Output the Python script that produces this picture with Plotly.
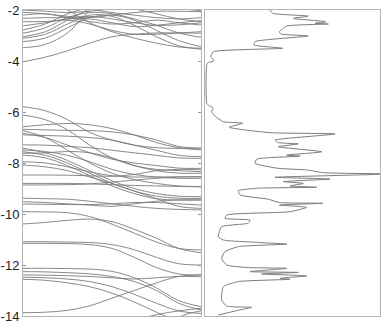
import plotly.graph_objects as go

# k-path sample positions (fraction of the path)
k_points = [0.0, 0.125, 0.25, 0.375, 0.5, 0.625, 0.75, 0.875, 1.0]

# band energies (eV) at k_points
bands_upper = [
    [-4.03, -3.85, -3.60, -3.30, -3.05, -2.95, -2.90, -2.90, -2.91],
    [-3.48, -3.35, -2.90, -2.00, -1.30, -1.00, -1.00, -1.00, -1.00],
    [-3.24, -3.10, -2.70, -2.30, -2.20, -2.40, -2.80, -3.20, -3.44],
    [-3.11, -2.95, -2.55, -2.20, -2.25, -2.60, -3.05, -3.40, -3.54],
    [-3.05, -2.85, -2.40, -1.95, -1.60, -1.40, -1.40, -1.40, -1.40],
    [-2.91, -2.70, -2.30, -2.10, -2.15, -2.35, -2.60, -2.90, -3.07],
    [-2.78, -2.55, -2.15, -1.90, -1.70, -1.60, -1.60, -1.60, -1.60],
    [-2.62, -2.50, -2.35, -2.35, -2.50, -2.65, -2.60, -2.50, -2.42],
    [-2.46, -2.45, -2.40, -2.55, -2.80, -2.95, -2.95, -2.90, -2.85],
    [-2.33, -2.30, -2.30, -2.25, -2.35, -2.50, -2.60, -2.58, -2.50],
    [-2.20, -2.15, -2.30, -2.45, -2.55, -2.50, -2.40, -2.50, -2.59],
    [-2.09, -2.15, -2.25, -2.30, -2.20, -2.10, -2.05, -2.05, -2.07],
    [-2.00, -2.05, -2.10, -2.05, -1.95, -1.90, -1.90, -1.95, -2.03],
    [-1.30, -1.60, -2.00, -2.50, -2.85, -3.10, -3.30, -3.45, -3.50],
    [-1.00, -1.30, -1.70, -1.95, -2.10, -2.20, -2.30, -2.35, -2.30],
    [-1.00, -1.00, -1.00, -1.40, -1.70, -1.95, -2.15, -2.35, -2.45],
]

bands_middle = [
    [-5.79, -5.95, -6.30, -6.80, -7.10, -7.30, -7.40, -7.43, -7.42],
    [-6.12, -6.30, -6.70, -7.30, -7.80, -8.10, -8.25, -8.30, -8.34],
    [-6.58, -6.50, -6.45, -6.50, -6.65, -6.90, -7.20, -7.40, -7.49],
    [-6.68, -6.70, -6.72, -6.73, -6.78, -6.90, -7.10, -7.35, -7.42],
    [-6.73, -7.00, -7.50, -8.00, -8.40, -8.65, -8.80, -8.90, -8.93],
    [-6.84, -7.00, -7.30, -7.60, -7.85, -8.00, -8.10, -8.20, -8.21],
    [-6.90, -6.92, -6.95, -7.00, -7.10, -7.30, -7.50, -7.70, -7.75],
    [-7.29, -7.30, -7.35, -7.40, -7.50, -7.60, -7.70, -7.80, -7.82],
    [-7.42, -7.60, -7.90, -8.30, -8.70, -9.00, -9.20, -9.30, -9.32],
    [-7.49, -7.55, -7.70, -7.95, -8.25, -8.45, -8.55, -8.60, -8.60],
    [-7.56, -7.70, -8.00, -8.40, -8.80, -9.10, -9.30, -9.38, -9.39],
    [-7.62, -7.60, -7.55, -7.60, -7.80, -8.10, -8.30, -8.40, -8.40],
    [-7.69, -7.80, -8.10, -8.50, -8.90, -9.20, -9.40, -9.45, -9.45],
    [-7.95, -8.00, -8.15, -8.35, -8.50, -8.55, -8.55, -8.54, -8.54],
    [-8.08, -8.15, -8.30, -8.55, -8.80, -9.10, -9.40, -9.70, -9.78],
    [-8.47, -8.47, -8.48, -8.50, -8.52, -8.45, -8.30, -8.25, -8.27],
    [-8.80, -8.80, -8.80, -8.82, -8.85, -8.88, -8.90, -8.92, -8.93],
    [-8.86, -8.86, -8.85, -8.82, -8.75, -8.67, -8.60, -8.55, -8.54],
    [-9.38, -9.40, -9.42, -9.50, -9.60, -9.70, -9.78, -9.82, -9.84],
    [-9.52, -9.55, -9.60, -9.65, -9.70, -9.60, -9.50, -9.45, -9.45],
    [-9.61, -9.62, -9.63, -9.63, -9.60, -9.55, -9.55, -9.60, -9.65],
    [-9.91, -9.92, -9.95, -10.10, -10.40, -10.75, -11.10, -11.35, -11.41],
    [-10.39, -10.33, -10.25, -10.20, -10.30, -10.60, -10.95, -11.35, -11.52],
]

bands_lower = [
    [-11.09, -11.09, -11.10, -11.12, -11.20, -11.40, -11.70, -11.95, -12.00],
    [-11.15, -11.15, -11.16, -11.20, -11.35, -11.70, -12.10, -12.35, -12.39],
    [-12.13, -12.13, -12.14, -12.16, -12.25, -12.50, -12.90, -13.40, -13.63],
    [-12.26, -12.27, -12.30, -12.35, -12.45, -12.65, -13.00, -13.50, -13.76],
    [-12.39, -12.40, -12.42, -12.45, -12.50, -12.55, -12.50, -12.45, -12.46],
    [-12.48, -12.50, -12.55, -12.65, -12.85, -13.15, -13.50, -13.80, -13.90],
    [-12.56, -12.60, -12.70, -12.85, -13.10, -13.45, -13.85, -14.20, -14.30],
    [-13.87, -13.85, -13.78, -13.60, -13.30, -13.00, -12.70, -12.45, -12.39],
    [-15.00, -15.00, -15.00, -15.00, -14.60, -14.20, -13.95, -13.80, -13.70],
    [-16.00, -16.00, -16.00, -16.00, -16.00, -15.50, -14.80, -14.05, -13.80],
]

# density of states (energy, dos)
dos_energy = [
    -2.00, -2.13, -2.24, -2.33, -2.46, -2.52, -2.55, -2.63, -2.85, -2.94,
    -3.02, -3.24, -3.37, -3.50, -3.64, -3.83, -3.99, -4.09, -5.66, -5.73,
    -5.85, -5.99, -6.16, -6.38, -6.44, -6.60, -6.81, -6.86, -7.03, -7.10,
    -7.20, -7.25, -7.36, -7.56, -7.69, -7.73, -7.85, -8.01, -8.21, -8.27,
    -8.38, -8.43, -8.56, -8.63, -8.73, -8.80, -8.90, -8.95, -8.99, -9.09,
    -9.25, -9.42, -9.55, -9.58, -9.65, -9.74, -9.91, -10.04, -10.17, -10.24,
    -10.36, -10.50, -10.89, -11.02, -11.11, -11.13, -11.18, -11.28, -11.48, -11.74,
    -12.00, -12.10, -12.13, -12.26, -12.29, -12.35, -12.43, -12.52, -12.56, -12.65,
    -12.85, -13.37, -13.61, -13.66, -13.76, -13.96,
]
dos_value = [
    3.71, 3.87, 5.90, 5.05, 6.91, 6.29, 7.05, 4.67, 4.25, 4.33,
    5.90, 2.86, 2.80, 4.44, 0.47, 0.33, 0.51, 0.13, 0.10, 0.19,
    0.47, 0.38, 0.57, 1.05, 2.15, 1.39, 3.71, 7.43, 4.76, 4.00,
    4.19, 5.33, 4.19, 6.67, 4.67, 5.43, 2.95, 2.86, 4.19, 5.81,
    6.76, 10.5, 4.00, 7.14, 4.47, 5.62, 4.86, 6.38, 2.95, 1.90,
    2.00, 3.62, 4.25, 6.73, 4.25, 5.81, 4.86, 1.24, 1.14, 2.57,
    2.47, 0.95, 0.76, 1.05, 2.95, 3.43, 4.67, 1.90, 1.14, 0.95,
    1.24, 2.47, 4.67, 2.57, 5.33, 3.24, 5.81, 4.29, 4.86, 1.90,
    1.05, 0.95, 1.24, 2.67, 2.00, 0.76,
]

y_ticks = [-2, -4, -6, -8, -10, -12, -14]

LINE = "#7c7c7c"
FRAME = "#b4b4b4"

fig = go.Figure()
for band in bands_upper + bands_middle + bands_lower:
    fig.add_trace(go.Scatter(x=k_points, y=band, mode="lines",
                             line=dict(color=LINE, width=0.9, shape="spline", smoothing=1.0),
                             xaxis="x", yaxis="y", showlegend=False, hoverinfo="skip"))

fig.add_trace(go.Scatter(x=dos_value, y=dos_energy, mode="lines",
                         line=dict(color=LINE, width=1.0, shape="spline", smoothing=0.5),
                         xaxis="x2", yaxis="y2", showlegend=False, hoverinfo="skip"))

common_y = dict(range=[-14, -2], showgrid=False, zeroline=False, showline=True,
                linecolor=FRAME, linewidth=1, mirror="ticks", automargin=False)

fig.update_layout(
    width=382, height=325,
    margin=dict(l=23, r=2, t=10, b=9),
    paper_bgcolor="white", plot_bgcolor="white",
    font=dict(family="Liberation Sans, Arial, sans-serif", size=13, color="#222"),
    xaxis=dict(domain=[0, 0.4986], range=[0, 1], showgrid=False, zeroline=False,
               showline=True, linecolor=FRAME, linewidth=1, mirror=True,
               showticklabels=False, ticks="", automargin=False),
    yaxis=dict(anchor="x", tickvals=y_ticks, ticktext=[str(v) for v in y_ticks],
               ticks="inside", ticklen=3, tickcolor="#999", **common_y),
    xaxis2=dict(domain=[0.5098, 1], range=[0, 10], showgrid=False, zeroline=False,
                showline=True, linecolor=FRAME, linewidth=1, mirror=True,
                showticklabels=False, ticks="", automargin=False),
    yaxis2=dict(anchor="x2", showticklabels=False, ticks="", **common_y),
)

fig.write_html("out.html", config={"displayModeBar": False},
               post_script="document.body.style.margin='0';document.body.style.overflow='hidden';")
